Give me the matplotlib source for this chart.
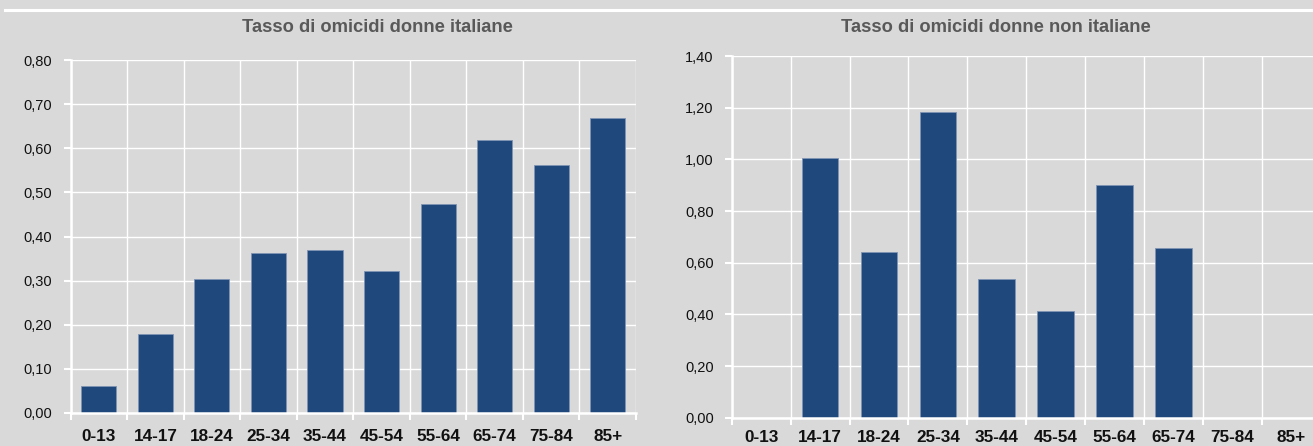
import numpy as np
import matplotlib
matplotlib.use("Agg")
import matplotlib.pyplot as plt
from matplotlib import font_manager
from matplotlib.lines import Line2D

categories = ["0-13", "14-17", "18-24", "25-34", "35-44", "45-54", "55-64", "65-74", "75-84", "85+"]
italiane = [0.061, 0.178, 0.304, 0.363, 0.369, 0.322, 0.474, 0.618, 0.563, 0.668]
non_italiane = [np.nan, 1.004, 0.640, 1.185, 0.538, 0.414, 0.899, 0.655, np.nan, np.nan]
title_left = "Tasso di omicidi donne italiane"
title_right = "Tasso di omicidi donne non italiane"
yticks_left = [0.0, 0.1, 0.2, 0.3, 0.4, 0.5, 0.6, 0.7, 0.8]
yticks_right = [0.0, 0.2, 0.4, 0.6, 0.8, 1.0, 1.2, 1.4]

names = {f.name for f in font_manager.fontManager.ttflist}
narrow = "Liberation Sans Narrow" in names
FONT = "Liberation Sans Narrow" if narrow else "Liberation Sans"
plt.rcParams['font.family'] = [FONT, 'DejaVu Sans']
k = 1.0 if narrow else 0.88

BG = "#D9D9D9"
BAR = "#1F497D"
W, H = 1313, 446
fig = plt.figure(figsize=(W / 100, H / 100), dpi=100, facecolor=BG)

def fx(px):
    return px / W

def fy(py):
    return 1 - py / H

def panel(rect, values, yticks, title, title_cx, xlab_pad):
    ax = fig.add_axes(rect)
    ax.set_facecolor(BG)
    x = np.arange(len(categories))
    ax.bar(x, values, width=0.62, color=BAR, edgecolor="#7F93B3", linewidth=0.6, zorder=3)
    ax.set_xlim(-0.5, len(categories) - 0.5)
    ax.set_ylim(yticks[0], yticks[-1])
    ax.set_yticks(yticks)
    ax.set_yticklabels([f"{v:.2f}".replace(".", ",") for v in yticks], fontsize=12 * k, color="#111111")
    ax.set_xticks(x)
    ax.set_xticklabels(categories, fontsize=14 * k, fontweight="bold", color="#111111")
    ax.set_xticks(np.arange(-0.5, len(categories), 1.0), minor=True)
    ax.tick_params(axis="x", which="major", length=0, pad=xlab_pad)
    ax.tick_params(axis="x", which="minor", length=5, width=1.5, color="white", direction="out")
    ax.tick_params(axis="y", which="major", length=5, width=1.5, color="white", direction="out", pad=8)
    ax.grid(True, axis="y", which="major", color="white", linewidth=1.0, zorder=1)
    ax.grid(True, axis="x", which="minor", color="white", linewidth=1.0, zorder=1)
    ax.grid(False, axis="x", which="major")
    for s in ["top", "right"]:
        ax.spines[s].set_visible(False)
    for s in ["left", "bottom"]:
        ax.spines[s].set_color("white")
        ax.spines[s].set_linewidth(1.8)
        ax.spines[s].set_zorder(4)
    ax.set_axisbelow(True)
    fig.text(title_cx, fy(27), title, ha="center", va="center", fontsize=15 * k,
             fontweight="bold", color="#595959")
    return ax

panel([fx(70.5), fy(413), fx(636) - fx(70.5), fy(60) - fy(413)],
      italiane, yticks_left, title_left, fx(377), 11.5)
panel([fx(731.7), fy(417.7), fx(1320.7) - fx(731.7), fy(56) - fy(417.7)],
      non_italiane, yticks_right, title_right, fx(996), 9.0)

fig.add_artist(Line2D([fx(5), 1.0], [fy(9.5), fy(9.5)], color="white", linewidth=2.2))

fig.savefig("out.png", dpi=100, facecolor=BG)
